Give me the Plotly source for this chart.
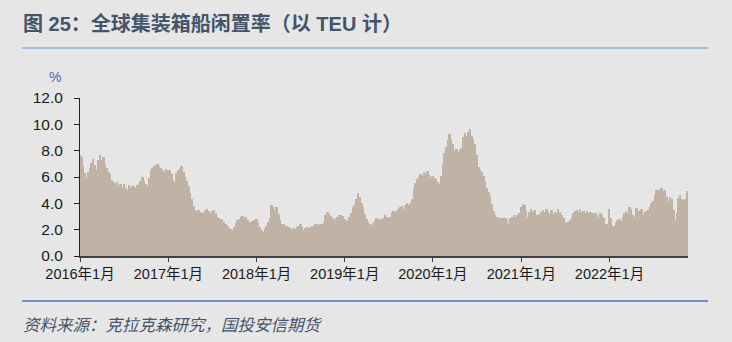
import pandas as pd
import plotly.graph_objects as go

# Weekly idle rate (%), one list per year
v2016 = [7.7, 7.5, 6.8, 6.3, 6.0, 6.4, 6.7, 7.1, 7.4, 6.9, 6.5, 7.3, 7.7, 7.3, 7.5, 7.0, 6.7, 6.4,
         6.2, 5.8, 5.6, 5.5, 5.6, 5.4, 5.5, 5.2, 5.5, 5.2, 5.0, 5.4, 5.2, 5.3, 5.3, 5.2, 5.4, 5.5,
         5.7, 6.0, 5.7, 5.5, 5.3, 5.9, 6.5, 6.7, 6.8, 6.9, 7.0, 6.8, 6.7, 6.5, 6.4, 6.6]
v2017 = [6.5, 6.5, 6.2, 5.8, 5.6, 6.3, 6.5, 6.7, 6.8, 6.4, 6.0, 5.7, 5.3, 4.8, 4.3, 3.8, 3.5, 3.4,
         3.5, 3.35, 3.3, 3.3, 3.5, 3.6, 3.4, 3.3, 3.4, 3.5, 3.3, 3.0, 2.85, 2.8, 2.8, 2.55, 2.45, 2.25,
         2.15, 2.05, 2.0, 2.2, 2.5, 2.7, 2.8, 3.0, 3.05, 2.9, 3.0, 2.7, 2.55, 2.6, 2.65, 2.75]
v2018 = [2.8, 2.5, 2.2, 2.0, 1.85, 2.05, 2.3, 2.6, 2.9, 3.9, 3.7, 3.5, 3.7, 3.2, 2.75, 2.45, 2.4, 2.25,
         2.25, 2.2, 2.1, 2.0, 2.15, 2.05, 2.2, 2.3, 2.45, 2.2, 2.0, 2.1, 2.2, 2.1, 2.2, 2.25, 2.3, 2.4,
         2.4, 2.35, 2.45, 2.45, 2.6, 3.1, 3.35, 3.2, 3.05, 2.9, 2.75, 2.9, 3.0, 3.15, 3.1, 3.05]
v2019 = [2.8, 2.65, 2.7, 3.0, 3.3, 3.7, 3.85, 4.3, 4.8, 4.45, 4.05, 3.7, 3.2, 2.8, 2.55, 2.45, 2.35, 2.5,
         2.65, 2.85, 2.75, 2.8, 2.7, 2.9, 3.1, 2.95, 2.9, 3.0, 3.25, 3.45, 3.35, 3.45, 3.6, 3.7, 3.8, 3.6,
         3.85, 4.0, 3.9, 4.05, 4.3, 5.1, 5.55, 5.85, 6.0, 6.25, 6.05, 6.35, 6.25, 6.45, 6.15, 6.0]
v2020 = [6.05, 5.95, 5.85, 5.6, 5.5, 6.1, 7.0, 7.8, 8.3, 8.8, 9.25, 8.9, 8.5, 8.0, 8.15, 7.9, 8.05, 8.2,
         9.05, 9.35, 9.15, 9.45, 9.65, 9.15, 8.9, 8.5, 7.7, 6.75, 6.5, 6.35, 6.1, 5.6, 5.2, 4.85, 4.55, 3.95,
         3.45, 3.1, 2.98, 2.92, 2.85, 2.8, 2.92, 2.85, 2.7, 2.45, 2.85, 2.98, 3.1, 2.98, 3.1, 3.25]
v2021 = [3.75, 3.98, 3.85, 3.45, 3.0, 3.35, 3.55, 3.35, 3.48, 3.1, 3.1, 3.22, 3.36, 3.48, 3.36, 3.6, 3.36, 3.22,
         3.48, 3.22, 3.36, 3.28, 3.6, 3.36, 3.1, 2.85, 2.6, 2.47, 2.6, 2.73, 2.98, 3.23, 3.43, 3.48, 3.36, 3.54,
         3.36, 3.43, 3.23, 3.43, 3.23, 3.36, 3.23, 3.23, 3.28, 3.1, 2.98, 3.23, 3.1, 2.85, 2.45, 2.4]
v2022 = [3.6, 2.9, 2.3, 2.25, 2.5, 2.75, 2.8, 2.65, 3.0, 3.25, 3.45, 3.25, 3.75, 3.55, 3.15, 3.0, 3.65, 3.45,
         3.4, 3.55, 3.15, 3.35, 3.4, 3.5, 3.7, 4.0, 4.2, 4.6, 5.05, 5.05, 4.85, 5.2, 4.9, 5.05, 4.5, 4.15,
         4.5, 4.3, 3.5, 2.75, 3.3, 4.4, 4.65, 4.35, 4.25, 4.35, 4.9]

years = [2016, 2017, 2018, 2019, 2020, 2021, 2022]
series = [v2016, v2017, v2018, v2019, v2020, v2021, v2022]

tick_dates = ["2016-01-01", "2017-01-01", "2018-01-01", "2019-01-01",
              "2020-01-01", "2021-01-01", "2022-01-01"]
tick_labels = ["2016年1月", "2017年1月", "2018年1月", "2019年1月",
               "2020年1月", "2021年1月", "2022年1月"]
y_ticks = [0, 2, 4, 6, 8, 10, 12]

dates, values = [], []
for y, vals in zip(years, series):
    d = pd.date_range(f"{y}-01-01", periods=len(vals), freq="7D")
    dates.extend(d)
    values.extend(vals)

BG = "#e6e6e6"
FONT = "Liberation Sans, Arial, Noto Sans CJK SC, sans-serif"
L, T, W, H = 80, 98, 608, 158


def px(x):
    return (x - L) / W


def py(y):
    return 1 - (y - T) / H


fig = go.Figure()
fig.add_trace(go.Bar(
    x=dates, y=values,
    width=8 * 86400000,
    marker=dict(color="#c0b2a5", line=dict(width=0)),
    hoverinfo="x+y",
))

fig.update_layout(
    width=732, height=342,
    margin=dict(l=L, r=732 - L - W, t=T, b=342 - T - H),
    paper_bgcolor=BG, plot_bgcolor=BG,
    bargap=0,
    showlegend=False,
    font=dict(family=FONT, size=15, color="#1a1a1a"),
    xaxis=dict(
        type="date",
        range=["2016-01-01", "2022-11-22"],
        tickvals=tick_dates, ticktext=tick_labels,
        ticks="outside", ticklen=4, tickcolor="#404040", tickwidth=1,
        showline=True, linecolor="#404040", linewidth=2,
        showgrid=False, zeroline=False,
        tickfont=dict(size=14.5, color="#1a1a1a"),
    ),
    yaxis=dict(
        range=[0, 12],
        tickvals=y_ticks, tickformat=".1f",
        ticks="outside", ticklen=5, tickcolor="#222222", tickwidth=1,
        ticklabelstandoff=8,
        showline=True, linecolor="#222222", linewidth=1,
        showgrid=False, zeroline=False,
        tickfont=dict(size=15.5, color="#1a1a1a"),
    ),
)

fig.add_annotation(text="图 25：全球集装箱船闲置率（以 TEU 计）",
                   xref="paper", yref="paper", x=px(21), y=py(24),
                   xanchor="left", yanchor="middle", showarrow=False,
                   font=dict(family=FONT, size=20, color="#44546a", weight="bold"))
fig.add_annotation(text="%", xref="paper", yref="paper",
                   x=px(55), y=py(77),
                   xanchor="center", yanchor="middle", showarrow=False,
                   font=dict(family=FONT, size=14, color="#4472c4"))
fig.add_annotation(text="<i>资料来源：克拉克森研究，国投安信期货</i>",
                   xref="paper", yref="paper", x=px(21), y=py(325),
                   xanchor="left", yanchor="middle", showarrow=False,
                   font=dict(family=FONT, size=16.5, color="#44546a"))

fig.add_shape(type="line", xref="paper", yref="paper",
              x0=px(22), x1=px(708), y0=py(48), y1=py(48),
              line=dict(color="#8faadc", width=1.5))
fig.add_shape(type="line", xref="paper", yref="paper",
              x0=px(22), x1=px(708), y0=py(301), y1=py(301),
              line=dict(color="#4472c4", width=1.5))

fig.write_html("out.html")
